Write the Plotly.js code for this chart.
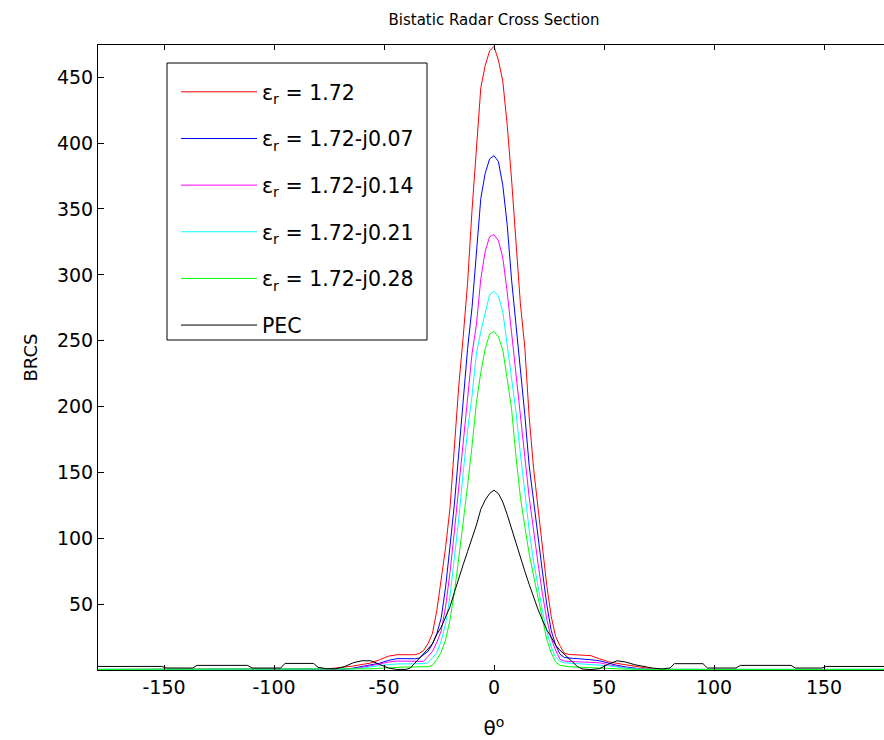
<!DOCTYPE html>
<html>
<head>
<meta charset="utf-8">
<script src="https://cdn.plot.ly/plotly-3.0.1.min.js"></script>
<style>
html, body { margin: 0; padding: 0; overflow: hidden; background: #fff; }
#chart { width: 890px; height: 740px; }
</style>
</head>
<body>
<div id="chart"></div>
<script>
// Scattering angle (degrees)
const theta = [
  -180, -151, -149, -137, -135, -112, -110, -97, -95, -82, -80, -76, -72, -68, -64, -60, -56, -52, -48, -44,
  -40, -38, -36, -34, -32, -30, -28, -26, -24, -22, -20, -18, -16, -14, -12, -10, -8, -6, -4, -2,
  0,
  2, 4, 6, 8, 10, 12, 14, 16, 18, 20, 22, 24, 26, 28, 30, 32, 34, 36, 38, 40,
  44, 48, 52, 56, 60, 64, 68, 72, 76, 80, 82, 95, 97, 110, 112, 135, 137, 149, 151, 180
];

const seriesNames = [
  'ε<sub>r</sub> = 1.72',
  'ε<sub>r</sub> = 1.72-j0.07',
  'ε<sub>r</sub> = 1.72-j0.14',
  'ε<sub>r</sub> = 1.72-j0.21',
  'ε<sub>r</sub> = 1.72-j0.28',
  'PEC'
];

const brcsEr172 = [
  0.4, 0.4, 0.4, 0.4, 0.4, 0.4, 0.4, 0.4, 0.4, 0.4, 0.5, 0.8, 1.5, 2.2, 3, 4.2, 5.3, 7.8, 10.5, 11.6,
  11.8, 11.7, 11.6, 12.5, 14.8, 20, 27.6, 45, 68, 93, 123, 172, 216, 253, 294, 349, 398, 442, 459, 470,
  473.5,
  463, 447, 414, 372, 327, 278, 245, 192, 153, 123, 97, 64, 40.7, 25.5, 18.3, 12.7, 11.8, 11.6, 11.6, 11.5,
  10.9, 8.5, 6.3, 5, 4, 3.2, 2, 0.8, 0.5, 0.4, 0.4, 0.4, 0.4, 0.4, 0.4, 0.4, 0.4, 0.4, 0.4, 0.4
];

const brcsEr007 = [
  0.4, 0.4, 0.4, 0.4, 0.4, 0.4, 0.4, 0.4, 0.4, 0.4, 0.4, 0.4, 0.4, 0.6, 1.4, 2.6, 3.8, 5.2, 7.3, 8.6,
  8.6, 8.5, 8.5, 9, 11.5, 14.2, 19.6, 27.5, 39.5, 63, 94, 126, 165, 208, 244, 275, 318, 358, 377, 388,
  390.5,
  386, 368, 338, 296, 262, 230, 194, 155, 127, 102, 75, 49.5, 30, 19, 12, 9.5, 9, 8.8, 8.6, 8.4,
  7.8, 7, 5, 3.5, 2.3, 1.3, 0.6, 0.4, 0.4, 0.4, 0.4, 0.4, 0.4, 0.4, 0.4, 0.4, 0.4, 0.4, 0.4, 0.4
];

const brcsEr014 = [
  0.4, 0.4, 0.4, 0.4, 0.4, 0.4, 0.4, 0.4, 0.4, 0.4, 0.4, 0.4, 0.4, 0.5, 1, 2, 3.2, 4.6, 6, 6.8,
  6.6, 6.4, 6.2, 6.2, 6.5, 10.3, 14, 21, 29.6, 48, 74, 105.5, 139, 173, 205, 240, 262, 297, 318, 329,
  330.5,
  326, 313, 287, 256, 223, 194, 162, 131, 104.5, 81, 58, 38.3, 24, 15, 8, 6.8, 6.5, 6.4, 6.3, 6.2,
  6, 5.5, 4, 2.6, 1.6, 0.8, 0.5, 0.4, 0.4, 0.4, 0.4, 0.4, 0.4, 0.4, 0.4, 0.4, 0.4, 0.4, 0.4, 0.4
];

const brcsEr021 = [
  0.4, 0.4, 0.4, 0.4, 0.4, 0.4, 0.4, 0.4, 0.4, 0.4, 0.4, 0.4, 0.4, 0.5, 0.8, 1.5, 2.5, 3.3, 4.1, 4.6,
  4.7, 4.7, 4.7, 4.7, 4.8, 5.5, 9, 13, 22, 35, 56, 84, 115, 150, 182, 208, 240, 257, 272, 285,
  287.5,
  284, 272, 248, 222, 196, 164, 133, 106, 82.5, 62, 45, 29.5, 17.5, 10, 6.5, 5.5, 5.3, 5.2, 5, 4.8,
  4.4, 4, 3.2, 2.3, 1.4, 0.8, 0.5, 0.4, 0.4, 0.4, 0.4, 0.4, 0.4, 0.4, 0.4, 0.4, 0.4, 0.4, 0.4, 0.4
];

const brcsEr028 = [
  0.5, 0.5, 0.5, 0.5, 0.5, 0.5, 0.5, 0.5, 0.5, 0.5, 0.5, 0.5, 0.5, 0.5, 0.5, 0.6, 0.9, 1.3, 1.8, 2.2,
  2.3, 2.3, 2.3, 2.3, 2.3, 2.5, 3.5, 8, 13.5, 23, 38, 59, 85, 111, 140, 170, 203, 226, 244, 255,
  257,
  253, 243, 221, 198, 162, 131, 109, 88, 71.5, 55, 38, 23, 13, 6, 3.5, 2.8, 2.5, 2.3, 2.2, 2.1,
  2, 1.8, 1.3, 0.9, 0.6, 0.5, 0.5, 0.5, 0.5, 0.5, 0.5, 0.5, 0.5, 0.5, 0.5, 0.5, 0.5, 0.5, 0.5, 0.5
];

const brcsPEC = [
  2.7, 2.7, 1.5, 1.5, 3.5, 3.5, 1.5, 1.5, 5, 5, 2, 1, 1, 2.5, 5.5, 7, 7, 4, 1.5, 0.4,
  0.5, 1.5, 5, 8.5, 12, 16, 20, 27, 32.5, 40, 48, 59, 70, 80, 90, 100, 110, 122, 129, 134,
  136.5,
  134, 127.5, 118, 107, 96, 85, 75, 65, 55, 46, 38, 30.5, 25, 19, 15, 12, 8.5, 5.5, 2.5, 0.8,
  0.3, 1, 4.5, 7, 6, 4, 2.7, 1.5, 0.8, 1.5, 4.8, 4.8, 1.5, 1.5, 3.5, 3.5, 1.5, 1.5, 2.7, 2.7
];

const seriesValues = [brcsEr172, brcsEr007, brcsEr014, brcsEr021, brcsEr028, brcsPEC];
const seriesColors = ['#ff0000', '#0000ff', '#ff00ff', '#00ffff', '#00ff00', '#000000'];

const xTicks = [-150, -100, -50, 0, 50, 100, 150];
const yTicks = [50, 100, 150, 200, 250, 300, 350, 400, 450];

const FONT = 'DejaVu Sans, Arial, sans-serif';

// plot-area geometry in pixels (for converting legend-box placement to paper coords)
const PL = 98, PW = 792, PT = 45, PH = 625;
const px2x = p => (p - PL) / PW;
const px2y = p => (PT + PH - p) / PH;

const traces = seriesValues.map((vals, i) => ({
  type: 'scatter',
  mode: 'lines',
  x: theta,
  y: vals,
  name: seriesNames[i],
  legendgroup: 'g' + i,
  line: { color: seriesColors[i], width: 1 },
  hoverinfo: 'skip'
}));

const axisCommon = {
  showline: true,
  linecolor: '#000',
  linewidth: 1,
  mirror: 'ticks',
  ticks: 'inside',
  tickcolor: '#000',
  tickwidth: 1,
  showgrid: false,
  zeroline: false,
  tickfont: { family: FONT, size: 19, color: '#000' }
};

const layout = {
  width: 890,
  height: 740,
  margin: { l: PL, r: 0, t: PT, b: 740 - PT - PH },
  paper_bgcolor: '#fff',
  plot_bgcolor: '#fff',
  font: { family: FONT, size: 19, color: '#000' },
  title: {
    text: 'Bistatic Radar Cross Section',
    font: { family: FONT, size: 15, color: '#000' },
    x: 0.5, xref: 'paper',
    y: 1 - 20 / 740, yref: 'container', yanchor: 'middle'
  },
  xaxis: Object.assign({}, axisCommon, {
    range: [-180, 180],
    tickvals: xTicks,
    ticktext: xTicks.map(String),
    ticklen: 5,
    title: { text: 'θ<sup>o</sup>', font: { family: FONT, size: 20, color: '#000' }, standoff: 24 }
  }),
  yaxis: Object.assign({}, axisCommon, {
    range: [0, 474.5],
    tickvals: yTicks,
    ticktext: yTicks.map(String),
    ticklen: 6,
    title: { text: 'BRCS', font: { family: FONT, size: 18, color: '#000' }, standoff: 14 }
  }),
  shapes: [{
    type: 'rect', xref: 'paper', yref: 'paper',
    x0: px2x(167), x1: px2x(427), y0: px2y(340), y1: px2y(63),
    line: { color: '#000', width: 1 },
    fillcolor: '#fff',
    layer: 'above'
  }],
  showlegend: true,
  legend: {
    x: px2x(176),
    y: px2y(72),
    xanchor: 'left',
    yanchor: 'top',
    bgcolor: 'rgba(0,0,0,0)',
    borderwidth: 0,
    font: { family: FONT, size: 20.5, color: '#000' },
    itemwidth: 76,
    tracegroupgap: 17
  }
};

Plotly.newPlot('chart', traces, layout, { staticPlot: true, displayModeBar: false });
</script>
</body>
</html>
